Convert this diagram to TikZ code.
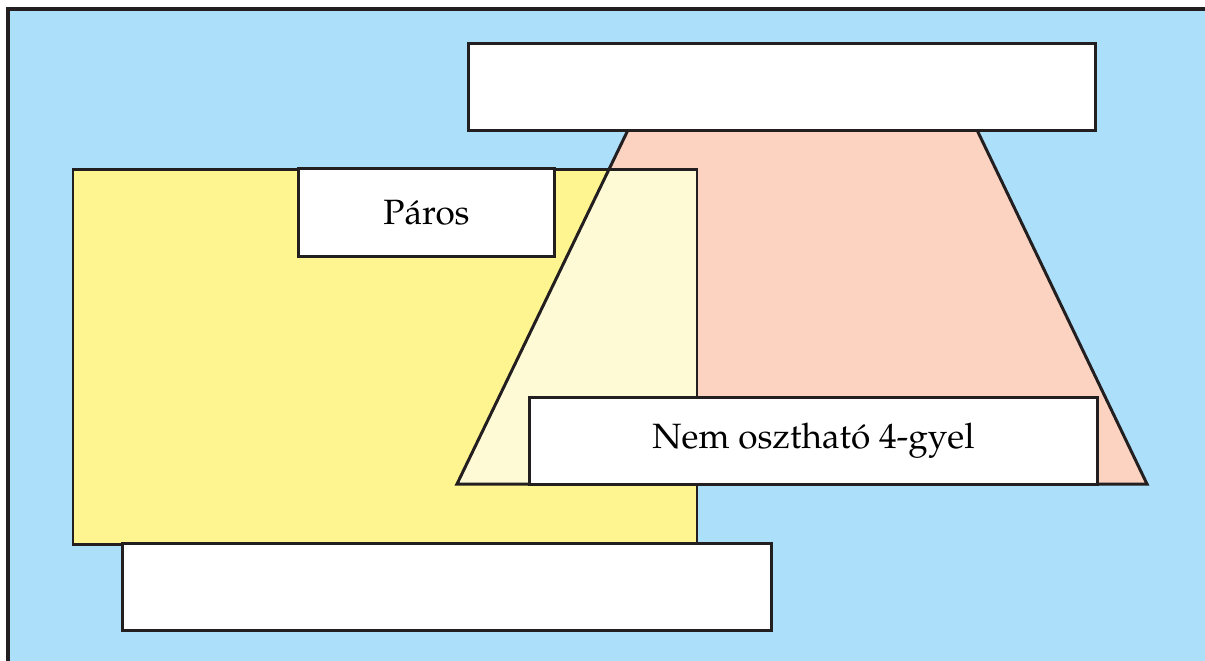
\documentclass[tikz,border=0pt]{standalone}
\usepackage[T1]{fontenc}
\usepackage{mathpazo}
\definecolor{egkek}{HTML}{ABDFFA}
\definecolor{sarga}{HTML}{FFF590}
\definecolor{halvany}{HTML}{FFFAD6}
\definecolor{lazac}{HTML}{FCD3C1}
\definecolor{vonal}{HTML}{231F20}
\tikzset{
  halmaz/.style={draw=vonal, line width=0.85pt, line join=miter},
  cimke/.style={halmaz, fill=white, inner sep=0pt, font=\normalsize}
}
\begin{document}
\begin{tikzpicture}[x=0.01cm, y=-0.01cm]
			\useasboundingbox (0,0) rectangle (1205,660);
			\clip (0,0) rectangle (1205,660);
			% alaphalmaz
			\draw[halmaz, line width=1.1pt, fill=egkek] (8,9) rectangle (1220,680);

			\fill[sarga] (73,169) rectangle (697,544);
			\fill[lazac] (628,130) -- (977,130) -- (1147,484) -- (457,484) -- cycle;
			\begin{scope}
				\clip (628,130) -- (977,130) -- (1147,484) -- (457,484) -- cycle;
				\fill[halvany] (73,169) rectangle (697,544);
			\end{scope}
			\draw[halmaz] (73,169) rectangle (697,544);
			\draw[halmaz] (628,130) -- (977,130) -- (1147,484) -- (457,484) -- cycle;

			% feliratok
			\node[cimke, minimum width=6.26cm, minimum height=0.86cm] (felso) at (782,87) {};
			\node[cimke, minimum width=2.55cm, minimum height=0.87cm] (paros) at (426.5,212.5) {Páros};
			\node[cimke, minimum width=5.67cm, minimum height=0.86cm] (nemnegy) at (813.5,441) {Nem osztható 4-gyel};
			\node[cimke, minimum width=6.48cm, minimum height=0.86cm] (also) at (447,587) {};

		\end{tikzpicture}
\end{document}
